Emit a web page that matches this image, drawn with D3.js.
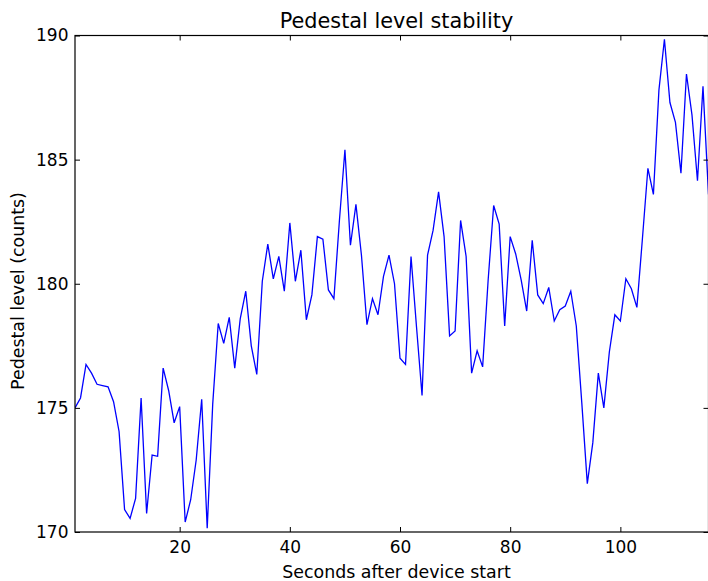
<!DOCTYPE html>
<html>
<head>
<meta charset="utf-8">
<script src="https://cdn.jsdelivr.net/npm/d3@7"></script>
<style>
  html, body { margin: 0; padding: 0; background: #fff; }
  svg { display: block; }
  text { font-family: "DejaVu Sans", sans-serif; fill: #000; }
</style>
</head>
<body>
<div id="chart"></div>
<script>
// Data: seconds after device start (1..116) and pedestal level (counts)
const seconds = d3.range(1, 117);
const pedestal = [
  175.0, 175.4, 176.75, 176.4, 175.95, 175.9, 175.85, 175.25, 174.05, 170.9,
  170.55, 171.35, 175.4, 170.75, 173.1, 173.05, 176.6, 175.7, 174.4, 175.05,
  170.4, 171.3, 172.9, 175.35, 170.15, 175.15, 178.4, 177.6, 178.65, 176.6,
  178.6, 179.7, 177.5, 176.35, 180.1, 181.6, 180.2, 181.1, 179.7, 182.45,
  180.1, 181.35, 178.55, 179.55, 181.9, 181.8, 179.75, 179.4, 182.55, 185.4,
  181.55, 183.2, 181.15, 178.35, 179.4, 178.75, 180.3, 181.15, 180.0, 177.0,
  176.75, 181.1, 178.25, 175.5, 181.15, 182.15, 183.7, 181.9, 177.9, 178.1,
  182.55, 181.1, 176.4, 177.3, 176.65, 180.15, 183.15, 182.4, 178.3, 181.9,
  181.2, 180.15, 178.9, 181.75, 179.55, 179.2, 179.85, 178.5, 178.95, 179.1,
  179.7, 178.3, 175.2, 171.95, 173.6, 176.4, 175.0, 177.25, 178.75, 178.5,
  180.2, 179.8, 179.05, 181.8, 184.65, 183.6, 187.8, 189.85, 187.3, 186.5,
  184.45, 188.45, 186.8, 184.15, 187.95, 183.6
];
const xTicks = [20, 40, 60, 80, 100];
const yTicks = [170, 175, 180, 185, 190];
const xDomain = [1, 116];
const yDomain = [170, 190];
const titleText = "Pedestal level stability";
const xLabel = "Seconds after device start";
const yLabel = "Pedestal level (counts)";

const W = 708, H = 581;
const m = { left: 75, right: -0.5, top: 35.5, bottom: 49 };
const pw = W - m.left - m.right, ph = H - m.top - m.bottom;

const svg = d3.select("#chart").append("svg").attr("width", W).attr("height", H);
const g = svg.append("g").attr("transform", `translate(${m.left},${m.top})`);

const x = d3.scaleLinear().domain(xDomain).range([0, pw]);
const y = d3.scaleLinear().domain(yDomain).range([ph, 0]);

g.append("defs").append("clipPath").attr("id", "clip")
  .append("rect").attr("width", pw).attr("height", ph);

const line = d3.line().x((d, i) => x(seconds[i])).y(d => y(d));
g.append("path")
  .datum(pedestal)
  .attr("clip-path", "url(#clip)")
  .attr("fill", "none")
  .attr("stroke", "#0000ff")
  .attr("stroke-width", 1.3)
  .attr("stroke-linejoin", "miter")
  .attr("d", line);

const tickLen = 5;
function styleAxis(sel) {
  sel.select(".domain").remove();
  sel.selectAll(".tick line").attr("stroke", "#000").attr("stroke-width", 1);
  sel.selectAll(".tick text").style("font-family", "'DejaVu Sans', sans-serif").attr("fill", "#000");
}

// bottom
g.append("g").attr("transform", `translate(0,${ph})`)
  .call(d3.axisBottom(x).tickValues(xTicks).tickSize(-tickLen).tickPadding(8.6).tickFormat(d3.format("d")))
  .call(styleAxis)
  .selectAll("text").style("font-size", "17px");
// top
g.append("g")
  .call(d3.axisTop(x).tickValues(xTicks).tickSize(-tickLen).tickFormat(""))
  .call(styleAxis);
// left
g.append("g")
  .call(d3.axisLeft(y).tickValues(yTicks).tickSize(-tickLen).tickPadding(6.5).tickFormat(d3.format("d")))
  .call(styleAxis)
  .selectAll("text").style("font-size", "17px");
// right
g.append("g").attr("transform", `translate(${pw},0)`)
  .call(d3.axisRight(y).tickValues(yTicks).tickSize(-tickLen).tickFormat(""))
  .call(styleAxis);

// frame
g.append("rect").attr("width", pw).attr("height", ph)
  .attr("fill", "none").attr("stroke", "#000").attr("stroke-width", 1.2);

svg.append("text").attr("x", 396.5).attr("y", 28)
  .attr("text-anchor", "middle").style("font-size", "20.8px").text(titleText);
svg.append("text").attr("x", 396.5).attr("y", 577.5)
  .attr("text-anchor", "middle").style("font-size", "17.4px").text(xLabel);
svg.append("text")
  .attr("transform", `translate(24,291) rotate(-90)`)
  .attr("text-anchor", "middle").style("font-size", "17.4px").text(yLabel);
</script>
</body>
</html>
